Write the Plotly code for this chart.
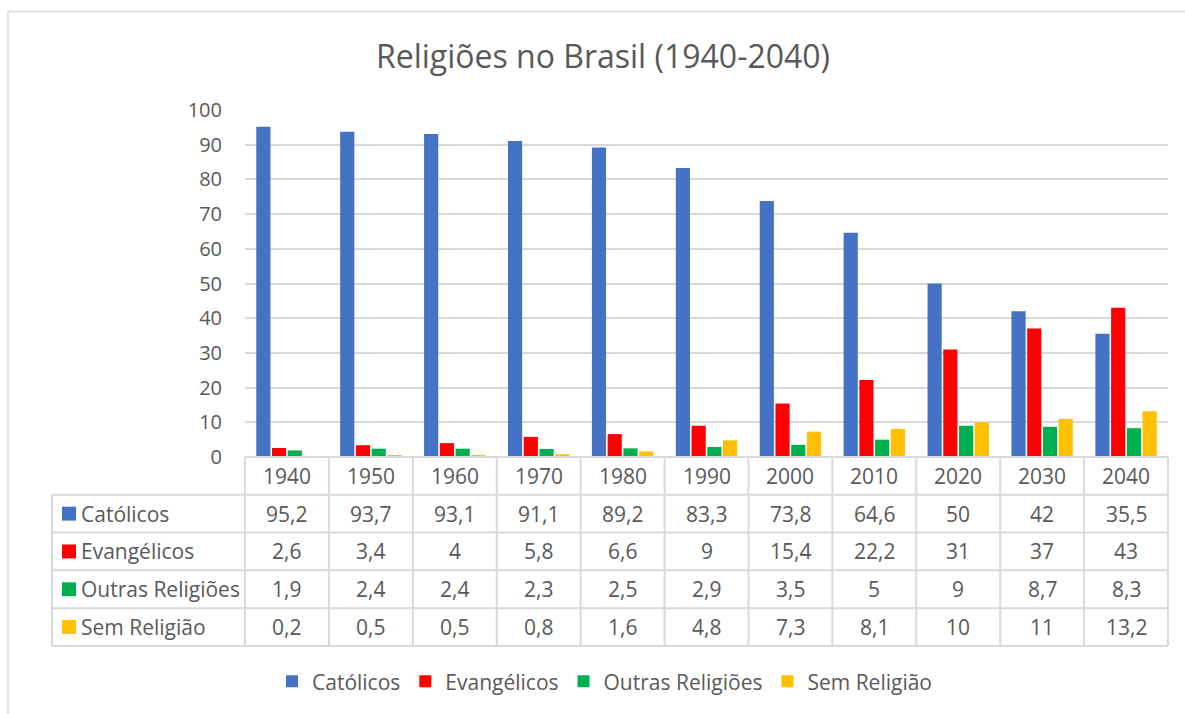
import plotly.graph_objects as go

# Dados
anos = ["1940", "1950", "1960", "1970", "1980", "1990", "2000", "2010", "2020", "2030", "2040"]
series = ["Católicos", "Evangélicos", "Outras Religiões", "Sem Religião"]
catolicos = [95.2, 93.7, 93.1, 91.1, 89.2, 83.3, 73.8, 64.6, 50, 42, 35.5]
evangelicos = [2.6, 3.4, 4, 5.8, 6.6, 9, 15.4, 22.2, 31, 37, 43]
outras = [1.9, 2.4, 2.4, 2.3, 2.5, 2.9, 3.5, 5, 9, 8.7, 8.3]
sem_religiao = [0.2, 0.5, 0.5, 0.8, 1.6, 4.8, 7.3, 8.1, 10, 11, 13.2]
yticks = [0, 10, 20, 30, 40, 50, 60, 70, 80, 90, 100]

valores = [catolicos, evangelicos, outras, sem_religiao]
CORES = ["#4472C4", "#FF0000", "#00B050", "#FFC000"]

FONT = "Open Sans"
TXT = "#595959"
GRID = "#d9d9d9"

W, H = 1185, 714
L, R, T, B = 245, 1168, 110, 459  # área do gráfico em pixels
ROW = 38
LEFT_COL = 52


def px_x(p):
    return (p - L) / (R - L)


def px_y(p):
    return (B - p) / (B - T)


fig = go.Figure()
for nome, vals, cor in zip(series, valores, CORES):
    fig.add_trace(go.Bar(name=nome, x=anos, y=vals, marker_color=cor,
                         marker_line_width=0))

shapes = []
# moldura externa (cortada à direita e embaixo)
shapes.append(dict(type="line", xref="paper", yref="paper",
                   x0=px_x(8), x1=px_x(W + 20), y0=px_y(11), y1=px_y(11),
                   line=dict(color=GRID, width=1.5)))
shapes.append(dict(type="line", xref="paper", yref="paper",
                   x0=px_x(8), x1=px_x(8), y0=px_y(11), y1=px_y(H + 20),
                   line=dict(color=GRID, width=1.5)))

# tabela de dados
n = len(anos)
nrows = len(series)
y_bottom = px_y(B + ROW * (nrows + 1))
for k in range(n + 1):
    shapes.append(dict(type="line", xref="paper", yref="paper",
                       x0=k / n, x1=k / n, y0=0, y1=y_bottom,
                       line=dict(color=GRID, width=2)))
shapes.append(dict(type="line", xref="paper", yref="paper",
                   x0=px_x(LEFT_COL), x1=px_x(LEFT_COL), y0=px_y(B + ROW), y1=y_bottom,
                   line=dict(color=GRID, width=2)))
shapes.append(dict(type="line", xref="paper", yref="paper",
                   x0=0, x1=1, y0=0, y1=0, line=dict(color=GRID, width=2)))
for r in range(1, nrows + 2):
    yy = px_y(B + ROW * r)
    shapes.append(dict(type="line", xref="paper", yref="paper",
                       x0=px_x(LEFT_COL), x1=1, y0=yy, y1=yy,
                       line=dict(color=GRID, width=2)))

cell_font = dict(family=FONT, size=21, color=TXT)
annotations = []
for i, ano in enumerate(anos):
    annotations.append(dict(xref="x", yref="paper", x=i, y=px_y(B + ROW / 2),
                            yanchor="middle", text=ano, showarrow=False,
                            font=cell_font))
for r, (nome, vals, cor) in enumerate(zip(series, valores, CORES)):
    yc = B + ROW * (r + 1) + ROW / 2
    shapes.append(dict(type="rect", xref="paper", yref="paper",
                       x0=px_x(62), x1=px_x(76), y0=px_y(yc - 7), y1=px_y(yc + 7),
                       fillcolor=cor, line=dict(width=0)))
    annotations.append(dict(xref="paper", yref="paper", x=px_x(79), y=px_y(yc),
                            xanchor="left", yanchor="middle", text=nome,
                            showarrow=False, font=cell_font))
    for i, v in enumerate(vals):
        annotations.append(dict(xref="x", yref="paper", x=i, y=px_y(yc),
                                yanchor="middle", text=f"{v:g}".replace(".", ","),
                                showarrow=False, font=cell_font))

fig.update_layout(
    width=W, height=H,
    paper_bgcolor="white", plot_bgcolor="white",
    font=dict(family=FONT, size=20, color=TXT),
    title=dict(text="Religiões no Brasil (1940-2040)", xref="container", yref="container",
               x=603 / W, y=1 - 57 / H, xanchor="center", yanchor="middle",
               font=dict(family=FONT, size=32, color=TXT)),
    margin=dict(l=L, r=W - R, t=T, b=H - B, pad=0),
    barmode="group", bargap=0.25, bargroupgap=0.1,
    xaxis=dict(showticklabels=False, showgrid=False, zeroline=False,
               range=[-0.5, n - 0.5], fixedrange=True),
    yaxis=dict(range=[0, 100], tickvals=yticks, showgrid=True, gridcolor=GRID,
               gridwidth=1.5, zeroline=False, ticks="", ticklabelstandoff=22,
               tickfont=dict(family=FONT, size=20, color=TXT)),
    legend=dict(orientation="h", x=px_x(605), xanchor="center", y=px_y(685),
                yanchor="middle", font=dict(family=FONT, size=21, color=TXT),
                itemwidth=30, bgcolor="rgba(0,0,0,0)"),
    shapes=shapes,
    annotations=annotations,
)

fig.write_html("out.html", config={"displayModeBar": False},
               post_script="document.body.style.margin='0';")
